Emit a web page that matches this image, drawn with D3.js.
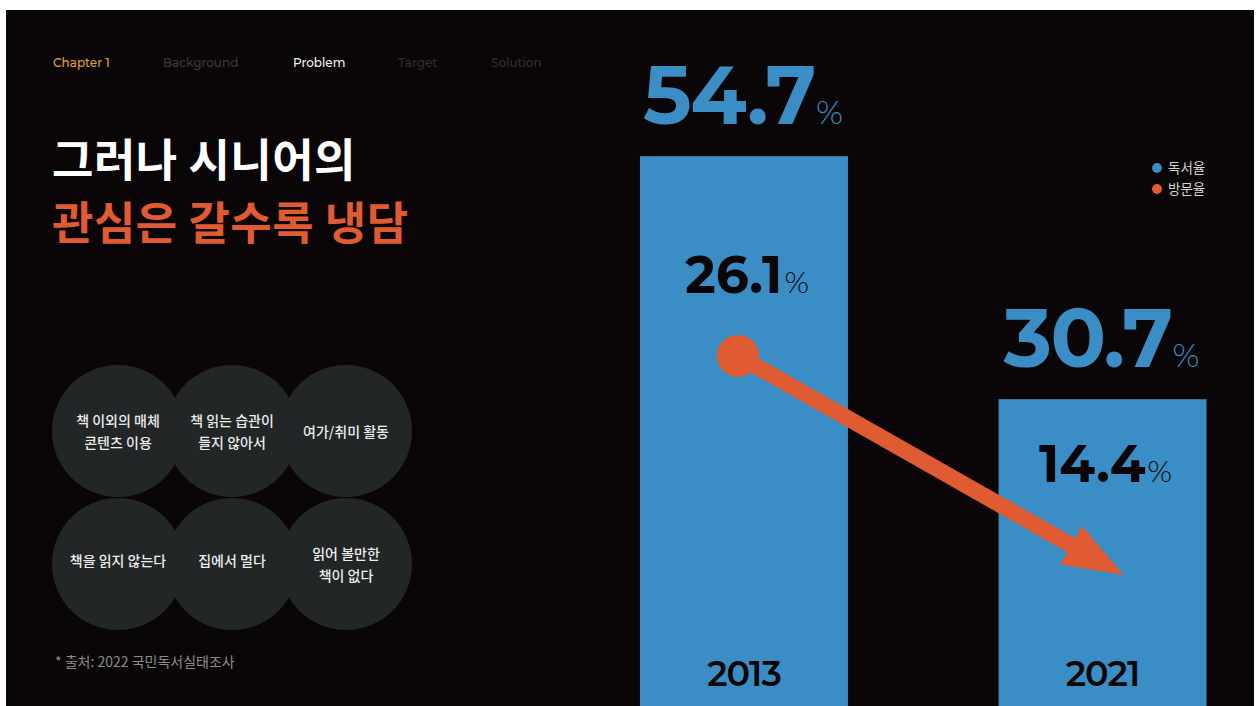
<!DOCTYPE html>
<html>
<head>
<meta charset="utf-8">
<script src="https://cdn.jsdelivr.net/npm/d3@7/dist/d3.min.js"></script>
<style>
  html, body { margin: 0; padding: 0; background: #ffffff; }
  svg { display: block; }
</style>
</head>
<body>
<svg id="chart" width="1256" height="706"></svg>
<script>
// ---- data ----
const years = ["2013", "2021"];
const readingRate = [54.7, 30.7];   // 독서율 (%)
const visitRate = [26.1, 14.4];     // 방문율 (%)
const seriesNames = ["독서율", "방문율"];
const navItems = ["Chapter 1", "Background", "Problem", "Target", "Solution"];
const titleLines = ["그러나 시니어의", "관심은 갈수록 냉담"];
const reasons = [
  ["책 이외의 매체", "콘텐츠 이용"],
  ["책 읽는 습관이", "들지 않아서"],
  ["여가/취미 활동"],
  ["책을 읽지 않는다"],
  ["집에서 멀다"],
  ["읽어 볼만한", "책이 없다"]
];
const sourceNote = "* 출처: 2022 국민독서실태조사";

// ---- style ----
const BG = "#0a0607";
const BLUE = "#3a8dc5";
const ORANGE = "#e05a32";
const BUBBLE = "#222627";
const NUM_FONT = "Montserrat, Inter, Lato, sans-serif";
const KR_FONT = "'Noto Sans CJK KR', 'Noto Sans', sans-serif";

const svg = d3.select("#chart");

// slide background
svg.append("rect")
  .attr("x", 6).attr("y", 10)
  .attr("width", 1248).attr("height", 700)
  .attr("fill", BG);

// ---- navigation ----
const navPos = [53, 163, 293, 398, 491];
const navColors = ["#e3a135", "#3a3a3a", "#f2f2f2", "#2f2f2f", "#2f2f2f"];
svg.append("g").selectAll("text")
  .data(navItems)
  .join("text")
  .attr("x", (d, i) => navPos[i])
  .attr("y", 67)
  .attr("fill", (d, i) => navColors[i])
  .attr("font-family", NUM_FONT)
  .attr("font-size", 12)
  .attr("font-weight", 500)
  .text(d => d);

// ---- title ----
svg.append("g").selectAll("text")
  .data(titleLines)
  .join("text")
  .attr("x", 52)
  .attr("y", (d, i) => 177 + i * 63)
  .attr("fill", (d, i) => i === 0 ? "#ffffff" : ORANGE)
  .attr("font-family", KR_FONT)
  .attr("font-size", 45)
  .attr("font-weight", 700)
  .attr("letter-spacing", 0.5)
  .text(d => d);

// ---- reason bubbles ----
const colX = d3.scaleLinear().domain([0, 2]).range([118, 346]);
const rowY = d3.scaleLinear().domain([0, 1]).range([431, 564]);
const bubbles = svg.append("g").selectAll("g")
  .data(reasons)
  .join("g")
  .attr("transform", (d, i) => `translate(${colX(i % 3)},${rowY(Math.floor(i / 3))})`);
bubbles.append("circle").attr("r", 66).attr("fill", BUBBLE);
bubbles.each(function (lines, i) {
  const g = d3.select(this);
  const lh = 22;
  const shift = (lines.length === 1 && i >= 3) ? -3 : 1;
  lines.forEach((line, j) => {
    g.append("text")
      .attr("x", 0)
      .attr("y", (j - (lines.length - 1) / 2) * lh + shift)
      .attr("dy", "0.35em")
      .attr("text-anchor", "middle")
      .attr("fill", "#ececec")
      .attr("font-family", KR_FONT)
      .attr("font-size", 14)
      .attr("font-weight", 500)
      .text(line);
  });
});

// source note
svg.append("text")
  .attr("x", 55).attr("y", 667)
  .attr("fill", "#8c8c8c")
  .attr("font-family", KR_FONT)
  .attr("font-size", 14)
  .text(sourceNote);

// ---- bar chart ----
const x = d3.scaleBand().domain(years).range([640, 1206.5]).paddingInner(0.42).paddingOuter(0);
const y = d3.scaleLinear().domain([0, 60]).range([710, 102.5]);
const yVisit = d3.scaleLinear().domain([0, 40]).range([844.5, 95.7]);

const rows = years.map((yr, i) => ({ year: yr, reading: readingRate[i], visit: visitRate[i] }));

svg.append("g").selectAll("rect")
  .data(rows)
  .join("rect")
  .attr("x", d => x(d.year))
  .attr("y", d => y(d.reading))
  .attr("width", x.bandwidth())
  .attr("height", d => y(0) - y(d.reading))
  .attr("fill", BLUE);

// reading-rate labels above bars
const bigLabels = svg.append("g").selectAll("text")
  .data(rows)
  .join("text")
  .attr("x", d => x(d.year) + x.bandwidth() / 2 - 1)
  .attr("y", d => y(d.reading) - 32)
  .attr("text-anchor", "middle")
  .attr("fill", BLUE)
  .attr("font-family", NUM_FONT);
bigLabels.append("tspan")
  .attr("font-size", 82).attr("font-weight", 700).attr("letter-spacing", -1.5)
  .text(d => d.reading.toFixed(1));
bigLabels.append("tspan")
  .attr("dx", 1)
  .attr("font-size", 33).attr("font-weight", 300)
  .text("%");

// visit-rate labels inside bars
const innerOffset = [137, 83];
const smallLabels = svg.append("g").selectAll("text")
  .data(rows)
  .join("text")
  .attr("x", d => x(d.year) + x.bandwidth() / 2 + 3)
  .attr("y", (d, i) => y(d.reading) + innerOffset[i])
  .attr("text-anchor", "middle")
  .attr("fill", "#0a0607")
  .attr("font-family", NUM_FONT);
smallLabels.append("tspan")
  .attr("font-size", 52).attr("font-weight", 700).attr("letter-spacing", 0)
  .text(d => d.visit.toFixed(1));
smallLabels.append("tspan")
  .attr("dx", 2)
  .attr("font-size", 30).attr("font-weight", 300)
  .text("%");

// year labels
svg.append("g").selectAll("text")
  .data(rows)
  .join("text")
  .attr("x", d => x(d.year) + x.bandwidth() / 2)
  .attr("y", 686)
  .attr("text-anchor", "middle")
  .attr("fill", "#0a0607")
  .attr("font-family", NUM_FONT)
  .attr("font-size", 35)
  .attr("font-weight", 600)
  .attr("letter-spacing", -1)
  .text(d => d.year);

// ---- visit-rate trend arrow ----
const startPt = [x(rows[0].year) + x.bandwidth() / 2 - 6, yVisit(rows[0].visit)];
const endPt = [x(rows[1].year) + x.bandwidth() / 2 + 21, yVisit(rows[1].visit)];
const ang = Math.atan2(endPt[1] - startPt[1], endPt[0] - startPt[0]);
const headLen = 60, headHalf = 22;
const base = [endPt[0] - headLen * Math.cos(ang), endPt[1] - headLen * Math.sin(ang)];
const nx = -Math.sin(ang), ny = Math.cos(ang);
const arrow = svg.append("g");
arrow.append("line")
  .attr("x1", startPt[0]).attr("y1", startPt[1])
  .attr("x2", base[0] + 4 * Math.cos(ang)).attr("y2", base[1] + 4 * Math.sin(ang))
  .attr("stroke", ORANGE)
  .attr("stroke-width", 16);
arrow.append("path")
  .attr("d", d3.line()([
    endPt,
    [base[0] + nx * headHalf, base[1] + ny * headHalf],
    [base[0] - nx * headHalf, base[1] - ny * headHalf]
  ]) + "Z")
  .attr("fill", ORANGE);
arrow.append("circle")
  .attr("cx", startPt[0]).attr("cy", startPt[1])
  .attr("r", 21)
  .attr("fill", ORANGE);

// ---- legend ----
const legend = svg.append("g").selectAll("g")
  .data(seriesNames)
  .join("g")
  .attr("transform", (d, i) => `translate(1157,${168 + i * 21})`);
legend.append("circle").attr("r", 5).attr("fill", (d, i) => i === 0 ? BLUE : ORANGE);
legend.append("text")
  .attr("x", 11).attr("dy", "0.35em")
  .attr("fill", "#d4d4d4")
  .attr("font-family", KR_FONT)
  .attr("font-size", 13.5)
  .text(d => d);
</script>
</body>
</html>
